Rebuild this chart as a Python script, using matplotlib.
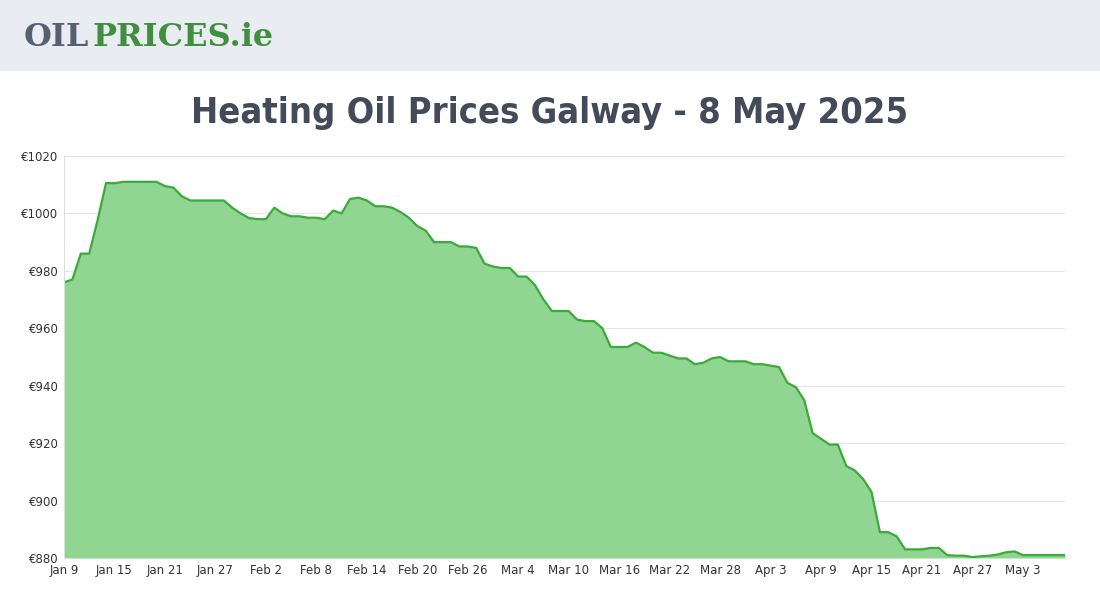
import numpy as np
import matplotlib
matplotlib.use("Agg")
import matplotlib.pyplot as plt

# daily prices, Jan 9 .. May 8 2025
prices = [976, 977, 986, 986, 997.7, 1010.6, 1010.5, 1011, 1011, 1011, 1011, 1011,
          1009.5, 1009, 1006, 1004.5, 1004.5, 1004.5, 1004.5, 1004.5, 1002, 1000,
          998.4, 998, 998, 1002, 1000, 999, 999, 998.5, 998.5, 998, 1001, 1000,
          1005, 1005.5, 1004.5, 1002.5, 1002.5, 1002, 1000.5, 998.5, 995.6, 994,
          990, 990, 990, 988.5, 988.5, 988, 982.5, 981.5, 981, 981, 978, 978, 975,
          970, 966, 966, 966, 963, 962.5, 962.5, 960, 953.5, 953.5, 953.5, 955,
          953.5, 951.5, 951.5, 950.5, 949.5, 949.5, 947.5, 948, 949.5, 950, 948.5,
          948.5, 948.5, 947.5, 947.5, 947, 946.5, 941, 939.5, 935, 923.5, 921.5,
          919.5, 919.5, 912, 910.5, 907.5, 903, 889, 889, 887.5, 883, 883, 883,
          883.5, 883.5, 881, 880.8, 880.8, 880.3, 880.6, 880.8, 881.2, 882, 882.3,
          881, 881, 881, 881, 881, 881]
tick_labels = ["Jan 9", "Jan 15", "Jan 21", "Jan 27", "Feb 2", "Feb 8", "Feb 14",
               "Feb 20", "Feb 26", "Mar 4", "Mar 10", "Mar 16", "Mar 22", "Mar 28",
               "Apr 3", "Apr 9", "Apr 15", "Apr 21", "Apr 27", "May 3"]
y_ticks = [880, 900, 920, 940, 960, 980, 1000, 1020]

days = np.arange(len(prices))

fig = plt.figure(figsize=(11, 6), dpi=100)
fig.patch.set_facecolor("white")

# header band
fig.patches.append(plt.Rectangle((0, 1 - 70 / 600), 1, 70 / 600, transform=fig.transFigure,
                                 color="#e9ecf3", zorder=0))
fig.text(24 / 1100, 1 - 38 / 600, "OIL", fontsize=23, fontweight="bold", color="#566070",
         family="DejaVu Serif", va="center")
fig.text(92 / 1100, 1 - 38 / 600, "PRICES.ie", fontsize=23, fontweight="bold", color="#3f8f3f",
         family="DejaVu Serif", va="center")

fig.text(0.5, 1 - 113 / 600, "Heating Oil Prices Galway - 8 May 2025", ha="center", va="center",
         fontsize=26, fontweight="bold", color="#434a5a",
         family=["Liberation Sans Narrow", "DejaVu Sans"], fontstretch="condensed")

ax = fig.add_axes([64 / 1100, 42 / 600, (1065 - 64) / 1100, (558 - 156) / 600])
ax.fill_between(days, prices, 880, color="#90d591", lw=0)
ax.plot(days, prices, color="#3aaa3a", lw=1.6)
ax.set_xlim(0, len(prices) - 1)
ax.set_ylim(880, 1020)
ax.set_xticks(np.arange(0, len(tick_labels) * 6, 6))
ax.set_xticklabels(tick_labels)
ax.set_yticks(y_ticks)
ax.set_yticklabels(["€%d" % v for v in y_ticks])
ax.tick_params(labelsize=8.5, colors="#333333", length=0, pad=4)
ax.grid(axis="y", color="#e6e6e6", lw=0.8)
ax.set_axisbelow(True)
for s in ["top", "right", "bottom"]:
    ax.spines[s].set_visible(False)
ax.spines["left"].set_color("#dddddd")

fig.savefig("out.png", dpi=100)
